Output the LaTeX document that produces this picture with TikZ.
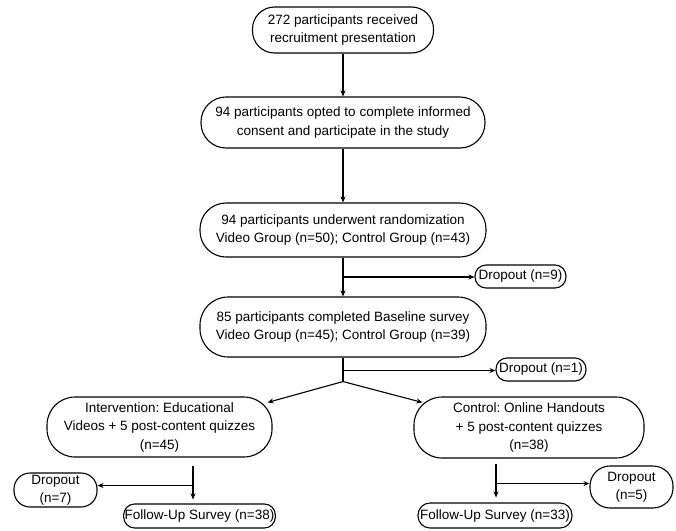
\documentclass[tikz,border=0pt]{standalone}
\usepackage{fontspec}
\setmainfont{Liberation Sans}
\usetikzlibrary{arrows.meta,calc}
\begin{document}
\frenchspacing
\begin{tikzpicture}[x=1pt,y=-1pt,
 box/.style={draw,line width=1.1pt,rounded corners=#1,align=center,inner sep=1pt,font=\fontsize{13.5}{18.5}\selectfont},
 box/.default=24pt,
 arr/.style={line width=1.1pt,-{Stealth[length=6pt,width=5pt]}},
 ln/.style={line width=1.1pt}]
\useasboundingbox (0,0) rectangle (676,530);
\node[box=22pt, minimum width=181pt, minimum height=46pt] (n1) at (343,30) {272 participants received\\recruitment presentation};
\node[box=25pt, minimum width=284pt, minimum height=51pt] (n2) at (343,122.5) {94 participants opted to complete informed\\consent and participate in the study};
\node[box=26pt, minimum width=286pt, minimum height=54pt] (n3) at (343,230) {94 participants underwent randomization\\Video Group (n=50); Control Group (n=43)};
\node[box=28pt, minimum width=286pt, minimum height=60pt] (n4) at (343,327) {85 participants completed Baseline survey\\Video Group (n=45); Control Group (n=39)};
\node[box=11pt, minimum width=91pt, minimum height=23pt] (d9) at (520.5,276.5) {Dropout (n=9)};
\node[box=11pt, minimum width=90pt, minimum height=23pt] (d1) at (541,369.5) {Dropout (n=1)};
\node[box=28pt, minimum width=225pt, minimum height=60pt] (int) at (159.5,427) {Intervention: Educational\\Videos + 5 post-content quizzes\\(n=45)};
\node[box=28pt, minimum width=230pt, minimum height=61pt] (ctl) at (529,427.5) {Control: Online Handouts\\+ 5 post-content quizzes\\(n=38)};
\node[box=16pt, minimum width=83pt, minimum height=34pt] (d7) at (55.5,490) {Dropout\\(n=7)};
\node[box=11pt, minimum width=143pt, minimum height=24pt] (fu38) at (199.5,516) {Follow-Up Survey (n=38)};
\node[box=20pt, minimum width=83pt, minimum height=42pt] (d5) at (631.5,487) {Dropout\\(n=5)};
\node[box=12pt, minimum width=154pt, minimum height=25pt] (fu33) at (495,515.5) {Follow-Up Survey (n=33)};

\draw[arr] (n1.south) -- (n2.north);
\draw[arr] (n2.south) -- (n3.north);
\draw[arr] (n3.south) -- (n4.north);
\coordinate (j1) at ($(n3.south)!0.5!(n4.north)$);
\draw[arr] (j1) -- (j1 -| d9.west);

\coordinate (sp) at ([yshift=-24pt]n4.south);
\coordinate (j2) at ([yshift=-13pt]n4.south);
\draw[ln] (n4.south) -- (sp);
\draw[arr] (j2) -- (j2 -| d1.west);
\draw[arr] (sp) -- ([shift={(-5,6)}]int.north east);
\draw[arr] (sp) -- ([shift={(9,6)}]ctl.north west);

\coordinate (b1) at ([xshift=33.5pt,yshift=-8pt]int.south);
\coordinate (b2) at ([yshift=-20pt]b1);
\draw[arr] (b1) -- ([yshift=4pt]b1 |- fu38.north);
\draw[arr] (b2) -- (b2 -| d7.east);

\coordinate (c1) at ([xshift=-33pt,yshift=-5pt]ctl.south);
\coordinate (c2) at ([yshift=-20pt]c1);
\draw[arr] (c1) -- ([yshift=5pt]c1 |- fu33.north);
\draw[arr] (c2) -- (c2 -| d5.west);
\end{tikzpicture}
\end{document}
